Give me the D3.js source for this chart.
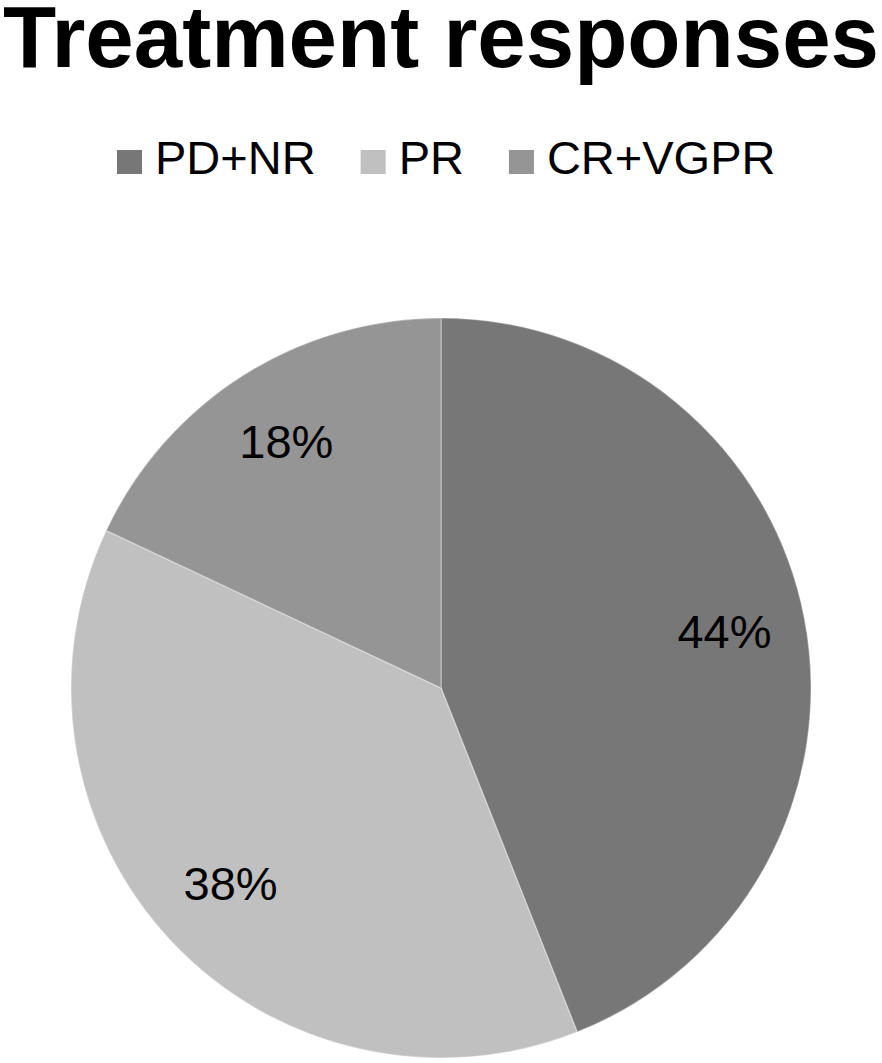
<!DOCTYPE html>
<html>
<head>
<meta charset="utf-8">
<script src="https://cdn.jsdelivr.net/npm/d3@7"></script>
<style>
  body { margin: 0; background: #fff; }
  svg { display: block; font-family: "Liberation Sans", Arial, sans-serif; }
</style>
</head>
<body>
<div id="chart"></div>
<script>
// Data
var categories = ["PD+NR", "PR", "CR+VGPR"];
var shares = [44, 38, 18];
var shareLabels = ["44%", "38%", "18%"];
var sliceColors = ["#777777", "#c0c0c0", "#959595"];

var width = 882, height = 1063;
var cx = 441, cy = 688, radius = 370;

var svg = d3.select("#chart").append("svg")
    .attr("width", width)
    .attr("height", height);

// Title
svg.append("text")
    .attr("x", 3)
    .attr("y", 67)
    .attr("font-size", 87)
    .attr("font-weight", "bold")
    .attr("textLength", 876)
    .attr("lengthAdjust", "spacingAndGlyphs")
    .text("Treatment responses");

// Legend, laid out left to right
var legend = svg.append("g").attr("class", "legend");
var lx = 117;
categories.forEach(function(c, i){
    legend.append("rect")
        .attr("x", lx)
        .attr("y", 150)
        .attr("width", 25)
        .attr("height", 24)
        .attr("fill", sliceColors[i]);
    var t = legend.append("text")
        .attr("x", lx + 38)
        .attr("y", 174)
        .attr("font-size", 47)
        .attr("fill", "#000")
        .text(c);
    lx += 38 + t.node().getComputedTextLength() + 45;
});

// Pie
var pie = d3.pie().sort(null).value(function(d){ return d; });
var arc = d3.arc().innerRadius(0).outerRadius(radius);
var labelArc = d3.arc().innerRadius(radius * 0.78).outerRadius(radius * 0.78);

var g = svg.append("g").attr("transform", "translate(" + cx + "," + cy + ")");

var slices = pie(shares);

g.selectAll("path.slice")
    .data(slices)
    .enter().append("path")
    .attr("class", "slice")
    .attr("d", arc)
    .attr("fill", function(d, i){ return sliceColors[i]; })
    .attr("stroke", "rgba(255,255,255,0.3)")
    .attr("stroke-width", 1.5);

g.selectAll("text.pct")
    .data(slices)
    .enter().append("text")
    .attr("class", "pct")
    .attr("transform", function(d){ return "translate(" + labelArc.centroid(d) + ")"; })
    .attr("text-anchor", "middle")
    .attr("dy", "0.3em")
    .attr("font-size", 47)
    .attr("fill", "#000")
    .text(function(d, i){ return shareLabels[i]; });
</script>
</body>
</html>
